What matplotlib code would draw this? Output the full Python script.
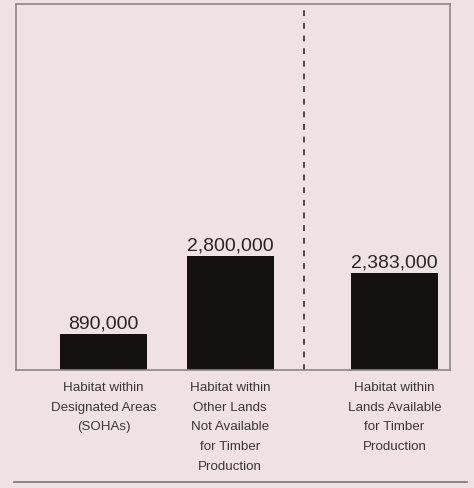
import matplotlib
matplotlib.use("Agg")
import matplotlib.pyplot as plt
from matplotlib.lines import Line2D

plt.rcParams['font.family'] = ['Liberation Sans', 'DejaVu Sans']

categories = ['Habitat within\nDesignated Areas\n(SOHAs)',
              'Habitat within\nOther Lands\nNot Available\nfor Timber\nProduction',
              'Habitat within\nLands Available\nfor Timber\nProduction']
values = [890000, 2800000, 2383000]
value_labels = ['890,000', '2,800,000', '2,383,000']

bg = '#f0e2e2'
xpos = [0, 1, 2.3]

fig = plt.figure(figsize=(4.74, 4.89), dpi=100, facecolor=bg)
ax = fig.add_axes([0.0338, 0.2413, 0.9156, 0.7485])
ax.set_facecolor(bg)

ax.bar(xpos, values, width=0.688, color='#151111', zorder=2)
for x, v, lab in zip(xpos, values, value_labels):
    ax.annotate(lab, (x, v), xytext=(0, 2), textcoords='offset points',
                ha='center', va='bottom', fontsize=14, color='#2a2626')

for x, cat in zip(xpos, categories):
    ax.annotate(cat, (x, 0), xycoords=('data', 'axes fraction'),
                xytext=(0, -8), textcoords='offset points',
                ha='center', va='top', fontsize=9.6, color='#3a3636',
                linespacing=1.85)

# divider between unavailable / available lands
ax.axvline(1.585, color='#4a4646', lw=1.4, ls=(0, (3, 3.5)), zorder=1)

ax.set_xlim(-0.692, 2.739)
ax.set_ylim(0, 9000000)
ax.set_xticks([])
ax.set_yticks([])
for sp in ax.spines.values():
    sp.set_color('#8c8686')
    sp.set_linewidth(1.2)

fig.add_artist(Line2D([0.03, 0.985], [0.012, 0.012], color='#7a7474', lw=1.2))

fig.savefig('out.png', dpi=100, facecolor=bg)
